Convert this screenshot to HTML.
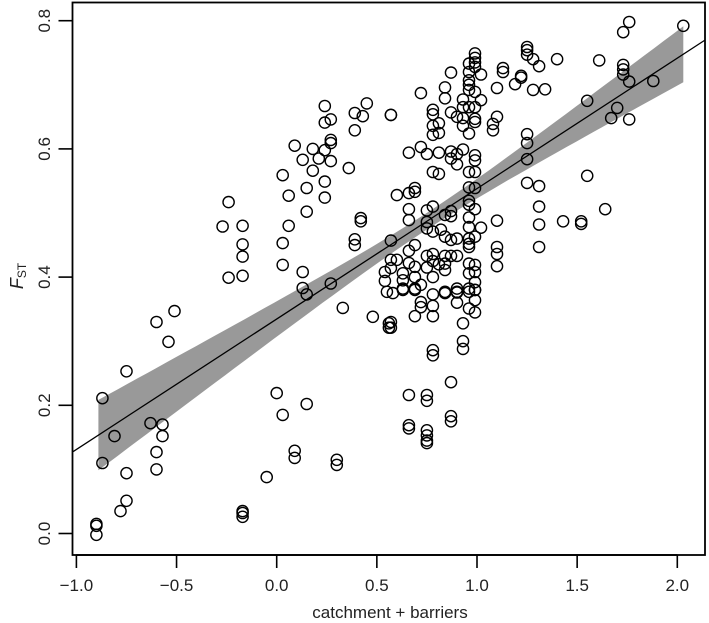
<!DOCTYPE html>
<html><head><meta charset="utf-8"><style>
html,body{margin:0;padding:0;background:#fff;}
svg{display:block;font-family:"Liberation Sans",Arial,sans-serif;}
</style></head><body>
<svg id="chart" width="709" height="623" viewBox="0 0 709 623">
<g id="band"></g>
<g id="pts"></g>
<g id="axes"></g>
</svg>
<script>
const xTicks = [-1.0, -0.5, 0.0, 0.5, 1.0, 1.5, 2.0];
const xTickLabels = ["\u22121.0", "\u22120.5", "0.0", "0.5", "1.0", "1.5", "2.0"];
const yTicks = [0.0, 0.2, 0.4, 0.6, 0.8];
const yTickLabels = ["0.0", "0.2", "0.4", "0.6", "0.8"];
const fitIntercept = 0.3346;
const fitSlope = 0.2035;
const bandRange = [-0.89, 2.03];
const bandCenterX = 0.75;
const bandA = 0.000169;
const bandB = 0.00106;
const xs = [0.24,0.24,0.27,0.39,0.43,0.45,0.39,0.57,0.09,0.18,0.24,0.27,0.27,0.13,0.21,0.27,0.18,0.36,0.03,0.24,0.15,0.06,0.24,-0.24,0.15,-0.27,-0.17,0.06,0.42,0.42,-0.17,-0.17,0.03,0.39,0.39,0.03,0.13,-0.24,-0.17,0.13,0.15,0.27,0.54,
0.33,0.48,0.56,0.56,-0.51,-0.60,-0.54,-0.75,-0.87,-0.81,-0.63,-0.57,-0.57,-0.60,-0.60,-0.87,-0.75,-0.75,-0.78,-0.90,-0.90,-0.90,0.00,0.15,0.03,0.09,0.09,0.30,0.30,-0.05,-0.17,-0.17,-0.17,
0.57,0.57,0.78,0.78,0.87,0.66,0.75,0.75,0.66,0.66,0.75,0.75,0.75,0.75,0.87,0.87,0.93,0.93,0.93,0.99,0.96,0.90,0.78,0.78,0.69,0.72,0.72,0.58,0.63,0.69,0.84,0.90,0.96,0.99,0.99,
2.03,1.76,1.73,1.40,1.61,1.73,1.73,1.73,1.76,1.88,1.55,1.70,1.67,1.76,1.25,1.25,1.25,1.28,1.31,1.13,1.13,1.22,1.22,1.19,1.10,1.28,1.34,1.25,1.25,1.25,1.55,1.25,1.31,1.31,1.31,1.31,1.43,1.52,1.52,1.64,1.10,1.10,1.10,1.10,1.10,1.08,1.08,
0.57,0.72,0.87,0.99,0.99,0.99,0.99,0.96,0.96,0.96,0.96,0.96,1.02,0.99,1.02,0.84,0.84,0.93,0.93,0.96,0.99,0.99,0.99,0.87,0.90,0.93,0.93,0.96,0.78,0.78,0.78,0.78,0.81,0.81,0.66,0.72,0.75,0.81,0.87,0.87,0.90,0.90,0.93,0.99,0.99,0.96,0.99,0.78,0.81,
0.60,0.66,0.69,0.69,0.96,0.99,0.66,0.66,0.75,0.78,0.84,0.87,0.87,0.96,0.96,0.99,0.75,0.75,0.78,0.82,1.02,0.96,0.96,0.99,0.96,0.96,0.96,0.90,0.87,0.84,
0.57,0.57,0.60,0.66,0.69,0.66,0.75,0.78,0.78,0.75,0.81,0.84,0.87,0.90,0.96,0.99,0.99,0.96,0.84,0.84,0.54,0.57,0.63,0.63,0.69,0.69,0.72,0.78,0.55,0.63,0.69,0.78,0.84,0.90,0.90,0.96,0.99,0.99];
const ys = [0.667,0.641,0.646,0.656,0.651,0.671,0.629,0.653,0.605,0.600,0.598,0.614,0.609,0.583,0.585,0.581,0.566,0.570,0.559,0.549,0.539,0.527,0.524,0.517,0.502,0.479,0.480,0.480,0.492,0.487,0.451,0.432,0.453,0.459,0.450,0.419,0.408,0.399,0.402,0.383,0.373,0.390,0.394,
0.352,0.338,0.328,0.321,0.347,0.330,0.299,0.253,0.211,0.152,0.172,0.170,0.152,0.127,0.100,0.110,0.094,0.051,0.035,0.015,0.012,-0.002,0.219,0.202,0.185,0.129,0.118,0.115,0.107,0.088,0.035,0.032,0.026,
0.330,0.321,0.286,0.278,0.236,0.216,0.216,0.207,0.169,0.164,0.161,0.153,0.145,0.141,0.183,0.175,0.328,0.300,0.288,0.345,0.351,0.360,0.339,0.355,0.339,0.361,0.353,0.375,0.380,0.380,0.375,0.377,0.377,0.380,0.364,
0.792,0.798,0.782,0.740,0.738,0.731,0.724,0.716,0.705,0.706,0.675,0.664,0.648,0.646,0.759,0.754,0.747,0.740,0.729,0.726,0.720,0.714,0.711,0.701,0.695,0.692,0.693,0.623,0.609,0.584,0.558,0.547,0.542,0.510,0.482,0.447,0.487,0.487,0.483,0.506,0.488,0.447,0.436,0.417,0.650,0.639,0.629,
0.653,0.687,0.719,0.749,0.742,0.735,0.728,0.733,0.720,0.707,0.700,0.692,0.716,0.689,0.676,0.696,0.679,0.677,0.665,0.665,0.665,0.647,0.642,0.657,0.650,0.648,0.636,0.624,0.661,0.654,0.636,0.622,0.640,0.625,0.594,0.603,0.592,0.594,0.596,0.585,0.592,0.576,0.599,0.590,0.582,0.564,0.564,0.564,0.561,
0.528,0.531,0.539,0.533,0.540,0.539,0.506,0.489,0.504,0.510,0.497,0.503,0.495,0.519,0.513,0.506,0.486,0.476,0.471,0.474,0.477,0.493,0.478,0.463,0.460,0.452,0.447,0.460,0.458,0.463,
0.457,0.427,0.427,0.441,0.450,0.422,0.433,0.436,0.425,0.415,0.420,0.433,0.433,0.433,0.421,0.419,0.408,0.406,0.421,0.411,0.408,0.414,0.406,0.395,0.416,0.400,0.388,0.400,0.377,0.382,0.382,0.373,0.377,0.382,0.376,0.382,0.392,0.380];

const NS = "http://www.w3.org/2000/svg";
const L = 72.5, R = 705, T = 2.5, B = 555;
function xp(v){ return 276.7 + 200.3 * v; }
function yp(v){ return 533.5 - 641 * v; }
function mk(tag, attrs, parent){ const e = document.createElementNS(NS, tag); for (const k in attrs) e.setAttribute(k, attrs[k]); parent.appendChild(e); return e; }

// band
const band = document.getElementById('band');
let up = [], lo = [];
for (let i = 0; i <= 60; i++) {
  const x = bandRange[0] + (bandRange[1] - bandRange[0]) * i / 60;
  const c = fitIntercept + fitSlope * x;
  const h = Math.sqrt(bandA + bandB * (x - bandCenterX) * (x - bandCenterX));
  up.push(xp(x).toFixed(1) + ',' + yp(c + h).toFixed(1));
  lo.unshift(xp(x).toFixed(1) + ',' + yp(c - h).toFixed(1));
}
const poly = mk('polygon', {points: up.concat(lo).join(' '), fill: '#999'}, band);


const xl = -1.017, xr = 2.138;
const fit = mk('line', {x1: xp(xl), y1: yp(fitIntercept + fitSlope * xl), x2: xp(xr), y2: yp(fitIntercept + fitSlope * xr), stroke: '#000', 'stroke-width': 1.3}, band);



// points
const pts = document.getElementById('pts');
for (let i = 0; i < xs.length; i++) {
  const c = mk('circle', {cx: xp(xs[i]).toFixed(1), cy: yp(ys[i]).toFixed(1), r: 5.6, fill: 'none', stroke: '#000', 'stroke-width': 1.4}, pts);
  
  
}

// axes
const ax = document.getElementById('axes');
const box = mk('rect', {x: L, y: T, width: R - L, height: B - T, fill: 'none', stroke: '#000', 'stroke-width': 1.8}, ax);


mk('line', {x1: xp(xTicks[0]), y1: B, x2: xp(xTicks[xTicks.length-1]), y2: B, stroke: '#000', 'stroke-width': 1.8}, ax);
for (let i = 0; i < xTicks.length; i++) {
  const X = xp(xTicks[i]);
  const t = mk('line', {x1: X, y1: B, x2: X, y2: B + 13, stroke: '#000', 'stroke-width': 1.6}, ax);
  
  
  const lb = mk('text', {x: X, y: 591, 'text-anchor': 'middle', 'font-size': 17, fill: '#222'}, ax);
  lb.textContent = xTickLabels[i];
  
  
}
for (let i = 0; i < yTicks.length; i++) {
  const Y = yp(yTicks[i]);
  const t = mk('line', {x1: L - 14, y1: Y, x2: L, y2: Y, stroke: '#000', 'stroke-width': 1.6}, ax);
  
  
  const lb = mk('text', {x: 0, y: 0, transform: 'translate(50,' + Y + ') rotate(-90)', 'text-anchor': 'middle', 'font-size': 17, fill: '#222'}, ax);
  lb.textContent = yTickLabels[i];
  
  
}
</script>
<svg width="709" height="623" style="position:absolute;left:0;top:0;pointer-events:none;font-family:'Liberation Sans',Arial,sans-serif">
<text x="390" y="618" text-anchor="middle" font-size="17" fill="#222">catchment + barriers</text>
<text transform="translate(23,276) rotate(-90)" text-anchor="middle" font-size="18" fill="#222"><tspan font-style="italic">F</tspan><tspan font-size="12" dy="3">ST</tspan></text>
</svg>
</body></html>
